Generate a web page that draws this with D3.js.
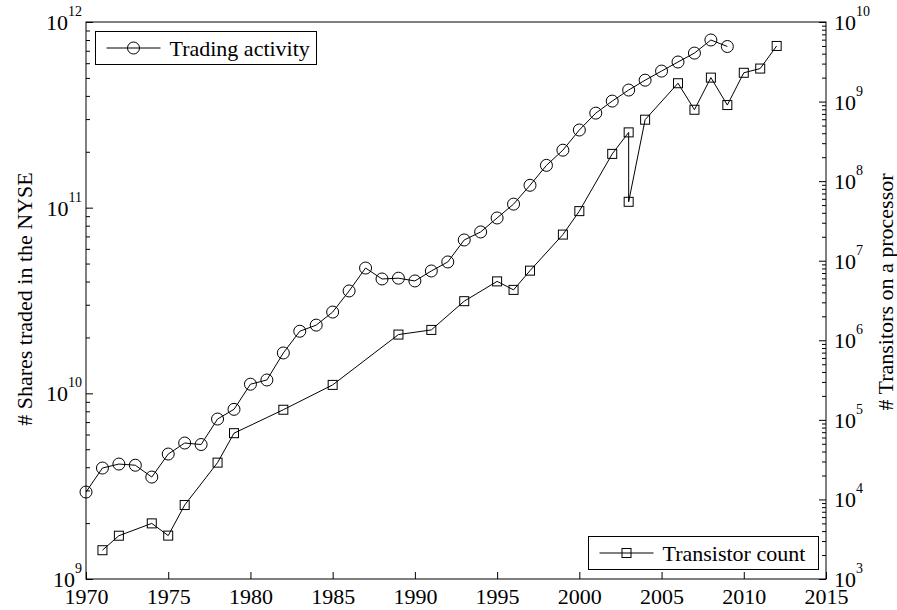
<!DOCTYPE html>
<meta charset="utf-8">
<style>
body { margin: 0; background: #fff; }
text { font-family: "Liberation Serif", "Times New Roman", serif; fill: #000; }
.axis path { display: none; }
.axis line { stroke: #000; stroke-width: 1; }
</style>
<body>
<script src="https://cdn.jsdelivr.net/npm/d3@7"></script>
<script>

// trading activity on the NYSE (left axis)
var tradeYears = [1970, 1971, 1972, 1973, 1974, 1975, 1976, 1977, 1978, 1979,
                  1980, 1981, 1982, 1983, 1984, 1985, 1986, 1987, 1988, 1989,
                  1990, 1991, 1992, 1993, 1994, 1995, 1996, 1997, 1998, 1999,
                  2000, 2001, 2002, 2003, 2004, 2005, 2006, 2007, 2008, 2009];
var tradeShares = [2.94e9, 3.96e9, 4.16e9, 4.1e9, 3.54e9, 4.71e9, 5.4e9, 5.3e9, 7.27e9, 8.2e9,
                   1.12e10, 1.18e10, 1.65e10, 2.16e10, 2.33e10, 2.74e10, 3.56e10, 4.73e10, 4.13e10, 4.17e10,
                   4.03e10, 4.56e10, 5.1e10, 6.7e10, 7.4e10, 8.8e10, 1.045e11, 1.32e11, 1.69e11, 2.04e11,
                   2.62e11, 3.23e11, 3.75e11, 4.3e11, 4.86e11, 5.44e11, 6.09e11, 6.8e11, 8.0e11, 7.38e11];

// transistor count per processor (right axis)
var chipYears = [1971, 1972, 1974, 1975, 1976, 1978, 1979, 1982, 1985, 1989,
                 1991, 1993, 1995, 1996, 1997, 1999, 2000, 2002, 2003, 2003,
                 2004, 2006, 2007, 2008, 2009, 2010, 2011, 2012];
var chipTransistors = [2300, 3500, 5000, 3510, 8500, 29000, 68000, 134000, 275000, 1180000,
                       1350000, 3100000, 5500000, 4300000, 7500000, 21300000, 42000000, 220000000, 410000000, 55000000,
                       592000000, 1700000000, 789000000, 2000000000, 904000000, 2300000000, 2600000000, 5000000000];

var xTicks = [1970, 1975, 1980, 1985, 1990, 1995, 2000, 2005, 2010, 2015];
var leftExps = [9, 10, 11, 12];
var rightExps = [3, 4, 5, 6, 7, 8, 9, 10];

var width = 897, height = 610;
var margin = {top: 22, right: 71, bottom: 31, left: 86};
var plotW = width - margin.left - margin.right,
    plotH = height - margin.top - margin.bottom;

var x = d3.scaleLinear().domain([1970, 2015]).range([0, plotW]);
var yL = d3.scaleLog().domain([1e9, 1e12]).range([plotH, 0]);
var yR = d3.scaleLog().domain([1e3, 1e10]).range([plotH, 0]);

var svg = d3.select("body").append("svg")
    .attr("width", width)
    .attr("height", height);

var g = svg.append("g")
    .attr("transform", "translate(" + margin.left + "," + margin.top + ")");

function isPow10(v) {
  var l = Math.log10(v);
  return Math.abs(l - Math.round(l)) < 1e-9;
}

// left axis: minor and major ticks pointing inward
var leftMinor = yL.ticks().filter(function(v) { return !isPow10(v); });
g.append("g").attr("class", "axis")
    .call(d3.axisLeft(yL).tickValues(leftMinor).tickSize(-4).tickFormat(""));
g.append("g").attr("class", "axis")
    .call(d3.axisLeft(yL).tickValues(leftExps.map(function(e) { return Math.pow(10, e); })).tickSize(-7).tickFormat(""));

// right axis
var rightMinor = yR.ticks().filter(function(v) { return !isPow10(v); });
g.append("g").attr("class", "axis")
    .attr("transform", "translate(" + plotW + ",0)")
    .call(d3.axisRight(yR).tickValues(rightMinor).tickSize(-4).tickFormat(""));
g.append("g").attr("class", "axis")
    .attr("transform", "translate(" + plotW + ",0)")
    .call(d3.axisRight(yR).tickValues(rightExps.map(function(e) { return Math.pow(10, e); })).tickSize(-7).tickFormat(""));

// bottom axis
var xAxisG = g.append("g").attr("class", "axis")
    .attr("transform", "translate(0," + plotH + ")")
    .call(d3.axisBottom(x).tickValues(xTicks).tickSize(-7).tickPadding(9).tickFormat(d3.format("d")));
xAxisG.selectAll("text")
    .style("font-family", "Liberation Serif")
    .style("font-size", "22px");

// box
g.append("rect")
    .attr("width", plotW)
    .attr("height", plotH)
    .attr("fill", "none")
    .attr("stroke", "#000")
    .attr("stroke-width", 1);

// power-of-ten labels
function powLabel(sel, e) {
  sel.append("tspan").style("font-size", "22px").text("10");
  sel.append("tspan").style("font-size", "14px").attr("dy", "-14").text(e);
}

g.selectAll(".lLab").data(leftExps).enter().append("text")
    .attr("class", "lLab")
    .attr("x", -4)
    .attr("y", function(d) { return yL(Math.pow(10, d)) + 8; })
    .attr("text-anchor", "end")
    .each(function(d) { powLabel(d3.select(this), d); });

g.selectAll(".rLab").data(rightExps).enter().append("text")
    .attr("class", "rLab")
    .attr("x", plotW + 8)
    .attr("y", function(d) { return yR(Math.pow(10, d)) + 8; })
    .attr("text-anchor", "start")
    .each(function(d) { powLabel(d3.select(this), d); });

// axis titles
svg.append("text")
    .attr("transform", "translate(32,299) rotate(-90)")
    .attr("text-anchor", "middle")
    .style("font-size", "22px")
    .text("# Shares traded in the NYSE");

svg.append("text")
    .attr("transform", "translate(893,292) rotate(-90)")
    .attr("text-anchor", "middle")
    .style("font-size", "22px")
    .text("# Transitors on a processor");

// series lines
var tradeData = tradeYears.map(function(d, i) { return [d, tradeShares[i]]; });
var chipData = chipYears.map(function(d, i) { return [d, chipTransistors[i]]; });

g.append("path")
    .datum(tradeData)
    .attr("fill", "none")
    .attr("stroke", "#000")
    .attr("stroke-width", 1)
    .attr("d", d3.line().x(function(d) { return x(d[0]); }).y(function(d) { return yL(d[1]); }));

g.append("path")
    .datum(chipData)
    .attr("fill", "none")
    .attr("stroke", "#000")
    .attr("stroke-width", 1)
    .attr("d", d3.line().x(function(d) { return x(d[0]); }).y(function(d) { return yR(d[1]); }));

g.selectAll(".circ").data(tradeData).enter().append("circle")
    .attr("class", "circ")
    .attr("cx", function(d) { return x(d[0]); })
    .attr("cy", function(d) { return yL(d[1]); })
    .attr("r", 6)
    .attr("fill", "none")
    .attr("stroke", "#000")
    .attr("stroke-width", 1);

var sq = 9;
g.selectAll(".sq").data(chipData).enter().append("rect")
    .attr("class", "sq")
    .attr("x", function(d) { return x(d[0]) - sq / 2; })
    .attr("y", function(d) { return yR(d[1]) - sq / 2; })
    .attr("width", sq)
    .attr("height", sq)
    .attr("fill", "none")
    .attr("stroke", "#000")
    .attr("stroke-width", 1);

// legends
function legend(x0, y0, w, h, label, marker) {
  var lg = svg.append("g").attr("transform", "translate(" + x0 + "," + y0 + ")");
  lg.append("rect").attr("width", w).attr("height", h)
      .attr("fill", "#fff").attr("stroke", "#000").attr("stroke-width", 1);
  lg.append("line").attr("x1", 11).attr("x2", 65).attr("y1", h / 2).attr("y2", h / 2)
      .attr("stroke", "#000");
  if (marker == "circle") {
    lg.append("circle").attr("cx", 38).attr("cy", h / 2).attr("r", 6)
        .attr("fill", "none").attr("stroke", "#000");
  } else {
    lg.append("rect").attr("x", 38 - sq / 2).attr("y", h / 2 - sq / 2)
        .attr("width", sq).attr("height", sq)
        .attr("fill", "none").attr("stroke", "#000");
  }
  lg.append("text").attr("x", 74).attr("y", h / 2 + 8)
      .style("font-size", "22px")
      .text(label);
}

legend(95.5, 31.5, 221, 33, "Trading activity", "circle");
legend(588.5, 536.5, 230, 33, "Transistor count", "square");

</script>
</body>
